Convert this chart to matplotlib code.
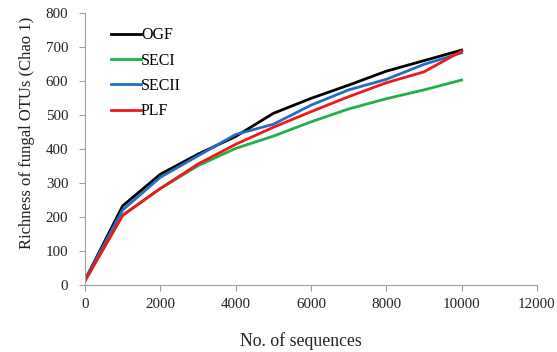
import matplotlib
matplotlib.use("Agg")
import matplotlib.pyplot as plt

x_seq = [0, 1000, 2000, 3000, 4000, 5000, 6000, 7000, 8000, 9000, 10000]
ogf = [15, 233, 326, 385, 437, 505, 549, 588, 629, 660, 691]
seci = [14, 206, 284, 351, 402, 438, 480, 518, 548, 574, 603]
secii = [15, 221, 317, 380, 443, 473, 529, 574, 605, 649, 683]
plf = [12, 205, 284, 356, 414, 464, 510, 554, 595, 627, 688]
series_names = ["OGF", "SECI", "SECII", "PLF"]
colors = ["#000000", "#1fb04a", "#1f6fc4", "#f01818"]

plt.rcParams['font.family'] = ['Liberation Serif', 'DejaVu Serif']

fig = plt.figure(figsize=(5.57, 3.52), dpi=100)
ax = fig.add_axes([0.1526, 0.19, 0.964 - 0.1526, 0.963 - 0.19])

for name, ys, c in zip(series_names, [ogf, seci, secii, plf], colors):
    ax.plot(x_seq, ys, color=c, lw=2.0, label=name)

ax.set_xlim(0, 12000)
ax.set_ylim(0, 800)
ax.set_xticks(range(0, 12001, 2000))
ax.set_yticks(range(0, 801, 100))
for s in ["top", "right"]:
    ax.spines[s].set_visible(False)
for s in ["left", "bottom"]:
    ax.spines[s].set_color("#a0a0a0")
    ax.spines[s].set_linewidth(0.8)
ax.tick_params(axis="both", colors="#a0a0a0", labelcolor="#222222", labelsize=10.8, length=4, width=0.8)
ax.tick_params(axis="y", pad=8)
ax.tick_params(axis="x", pad=5)

ax.set_xlabel("No. of sequences", fontsize=12.8, color="#222222")
ax.xaxis.set_label_coords(0.478, -0.172)
ax.set_ylabel("Richness of fungal OTUs (Chao 1)", fontsize=12, color="#222222")
ax.yaxis.set_label_coords(-0.110, 0.56)

leg = ax.legend(loc="upper left", bbox_to_anchor=(0.025, 1.0), frameon=False, fontsize=11.5,
                handlelength=1.9, handletextpad=0.0, labelspacing=0.58)

fig.savefig("out.png", dpi=100)
